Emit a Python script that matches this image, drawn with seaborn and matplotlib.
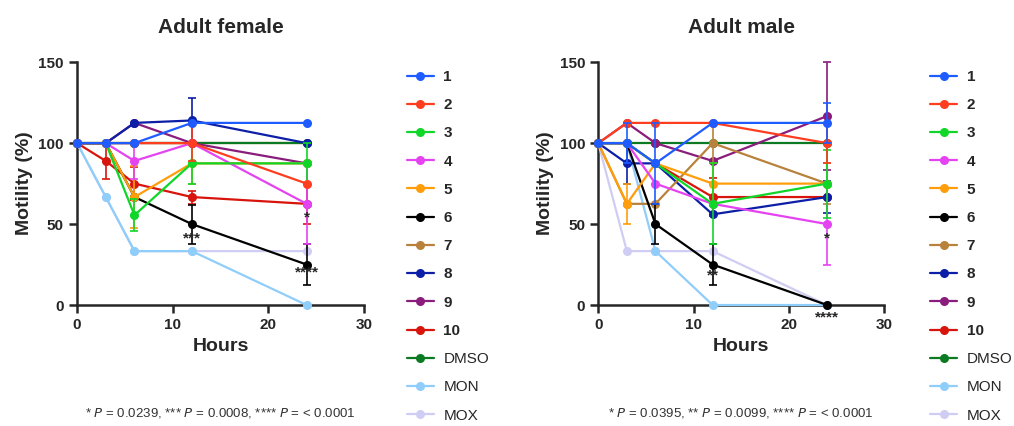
import numpy as np
import pandas as pd
import seaborn as sns
import matplotlib.pyplot as plt

sns.set_style("ticks")
plt.rcParams['font.family'] = ['Liberation Sans', 'DejaVu Sans']

# time points (hours)
hours = [0, 3, 6, 12, 24]

series = ["1", "2", "3", "4", "5", "6", "7", "8", "9", "10", "DMSO", "MON", "MOX"]
colors = ["#1f5cff", "#ff3d1f", "#10d62a", "#e543f2", "#ff9d0a", "#000000", "#b8823c",
          "#0c1fa6", "#8a1c7c", "#d8150c", "#0b7a22", "#8fcdfb", "#cfcdf3"]

# adult female, mean motility (%)
female_mean = {
    "1": [100, 100, 100, 112.5, 112.5],
    "2": [100, 100, 100, 100, 75],
    "3": [100, 100, 55.5, 87.5, 87.5],
    "4": [100, 100, 89, 100, 62.5],
    "5": [100, 100, 66.7, 87.5, 87.5],
    "6": [100, 100, 66.7, 50, 25],
    "7": [100, 100, 100, 100, 100],
    "8": [100, 100, 112.5, 114, 100],
    "9": [100, 100, 112.5, 100, 87.5],
    "10": [100, 89, 75, 66.7, 62.5],
    "DMSO": [100, 100, 100, 100, 100],
    "MON": [100, 66.7, 33.3, 33.3, 0],
    "MOX": [100, 66.7, 33.3, 33.3, 33.3],
}
female_err = {
    "2": [0, 0, 0, 11, 0],
    "3": [0, 0, 10, 12.5, 12.5],
    "4": [0, 0, 11, 0, 25],
    "5": [0, 0, 19, 12.5, 0],
    "6": [0, 0, 0, 12, 12.5],
    "8": [0, 0, 0, 14, 0],
    "10": [0, 11, 10, 4, 12.5],
}
female_hidden = ["7"]
female_marks = [(12, 41, "***"), (24, 54, "*"), (24, 20, "****")]
female_note = "* $\\mathit{P}$ = 0.0239, *** $\\mathit{P}$ = 0.0008, **** $\\mathit{P}$ = < 0.0001"

# adult male, mean motility (%)
male_mean = {
    "1": [100, 100, 87.5, 112.5, 112.5],
    "2": [100, 112.5, 112.5, 112.5, 100],
    "3": [100, 100, 87.5, 62.5, 75],
    "4": [100, 100, 75, 62.5, 50],
    "5": [100, 62.5, 87.5, 75, 75],
    "6": [100, 100, 50, 25, 0],
    "7": [100, 62.5, 62.5, 100, 75],
    "8": [100, 87.5, 87.5, 56, 66.7],
    "9": [100, 112.5, 100, 89, 116.7],
    "10": [100, 100, 87.5, 66.7, 66.7],
    "DMSO": [100, 100, 100, 100, 100],
    "MON": [100, 100, 33.3, 0, 0],
    "MOX": [100, 33.3, 33.3, 33.3, 0],
}
male_err = {
    "1": [0, 12.5, 25, 0, 12.5],
    "2": [0, 0, 0, 0, 12.5],
    "3": [0, 0, 0, 25, 21],
    "4": [0, 0, 0, 0, 25],
    "5": [0, 12.5, 0, 12.5, 0],
    "6": [0, 0, 12.5, 12.5, 0],
    "7": [0, 0, 0, 12.5, 12.5],
    "8": [0, 12.5, 0, 0, 10],
    "9": [0, 0, 0, 0, 33.3],
    "10": [0, 0, 0, 12, 0],
}
male_hidden = []
male_marks = [(12, 18, "**"), (24, 41, "*"), (24, -8, "****")]
male_note = "* $\\mathit{P}$ = 0.0395, ** $\\mathit{P}$ = 0.0099, **** $\\mathit{P}$ = < 0.0001"

fig = plt.figure(figsize=(10.14, 4.26), dpi=100)
ax1 = fig.add_axes([0.076, 0.284, 0.283, 0.57])
ax2 = fig.add_axes([0.590, 0.284, 0.282, 0.57])


def draw_panel(ax, means, errs, hidden, marks, title, note):
    for i, name in enumerate(series):
        z = 5 if name in hidden else 30 - i
        col = colors[i]
        df = pd.DataFrame({"Hours": hours, "Motility": means[name]})
        sns.lineplot(data=df, x="Hours", y="Motility", ax=ax, color=col, marker="o",
                     markersize=6.5, markeredgewidth=0, linewidth=1.6, label=name,
                     zorder=z, clip_on=False)
        if name in errs:
            e = np.array(errs[name])
            keep = e > 0
            ax.errorbar(np.array(hours)[keep], np.array(means[name])[keep], yerr=e[keep],
                        fmt="none", ecolor=col, elinewidth=1.2, capsize=3,
                        capthick=1.2, zorder=z, clip_on=False)
    for x, y, s in marks:
        ax.text(x, y, s, ha="center", va="center", fontsize=11, fontweight="bold",
                zorder=40, clip_on=False)
    ax.set_xlim(0, 30)
    ax.set_ylim(0, 150)
    ax.set_xticks([0, 10, 20, 30])
    ax.set_yticks([0, 50, 100, 150])
    ax.set_xlabel("Hours", fontsize=14, fontweight="bold", labelpad=4)
    ax.set_ylabel("Motility (%)", fontsize=14, fontweight="bold", labelpad=4)
    ax.set_title(title, fontsize=15, fontweight="bold", pad=21)
    for lab in ax.get_xticklabels() + ax.get_yticklabels():
        lab.set_fontweight("bold")
        lab.set_fontsize(11)
    ax.tick_params(width=1.8, length=6)
    for side in ["left", "bottom"]:
        ax.spines[side].set_linewidth(1.8)
    sns.despine(ax=ax)
    ax.get_legend().remove()
    fig.text((ax.get_position().x0 + ax.get_position().x1) / 2, 0.03, note,
             ha="center", va="center", fontsize=9.5, color="#333333")


draw_panel(ax1, female_mean, female_err, female_hidden, female_marks, "Adult female", female_note)
draw_panel(ax2, male_mean, male_err, male_hidden, male_marks, "Adult male", male_note)

for ax, lx in [(ax1, 0.395), (ax2, 0.911)]:
    handles, labels = ax.get_legend_handles_labels()
    leg = fig.legend(handles, labels, loc="upper left", bbox_to_anchor=(lx, 0.85),
                     frameon=False, fontsize=11, handlelength=1.8, handletextpad=0.6,
                     labelspacing=0.93, borderaxespad=0)
    for t in leg.get_texts():
        if t.get_text().isdigit():
            t.set_fontweight("bold")

fig.savefig("out.png", dpi=100)
